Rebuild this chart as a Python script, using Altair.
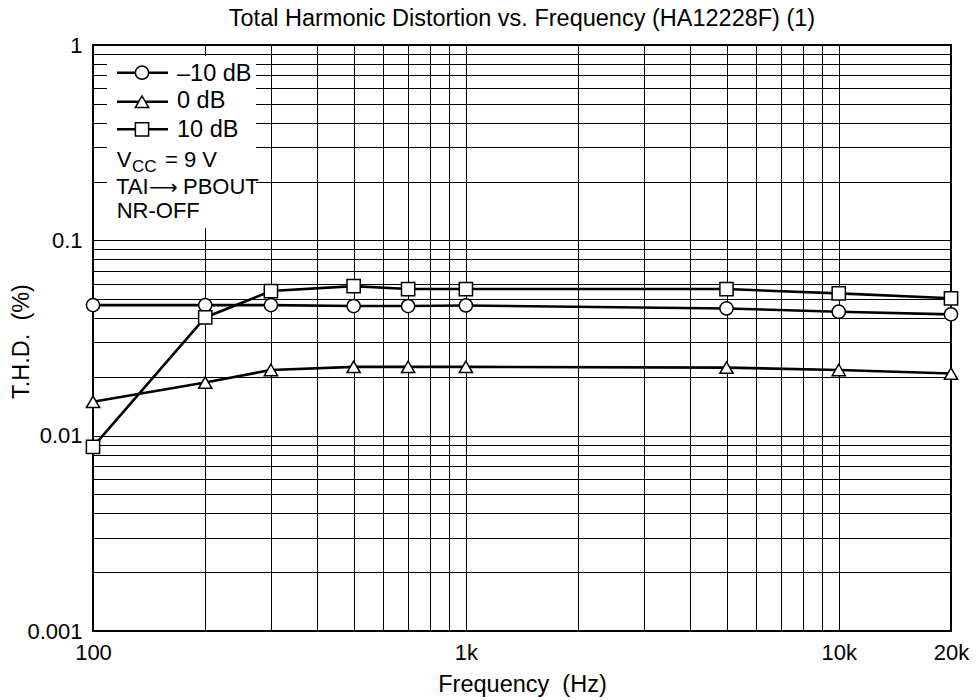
import altair as alt
import pandas as pd

# ---- data ----
freqs = [100, 200, 300, 500, 700, 1000, 5000, 10000, 20000]
thd_minus10 = [0.0466, 0.0466, 0.0466, 0.0461, 0.0461, 0.0464, 0.0448, 0.0431, 0.0418]
thd_0db = [0.0149, 0.0187, 0.0217, 0.0225, 0.0225, 0.0225, 0.0223, 0.0217, 0.0208]
thd_plus10 = [0.00877, 0.0403, 0.0550, 0.0583, 0.0563, 0.0563, 0.0563, 0.0535, 0.0505]

series_names = ["\u201310 dB", "0 dB", "10 dB"]
series_shapes = ["circle", "triangle-up", "square"]

x_grid = [100, 200, 300, 400, 500, 600, 700, 800, 900,
          1000, 2000, 3000, 4000, 5000, 6000, 7000, 8000, 9000,
          10000, 20000]
x_labels = {100: "100", 1000: "1k", 10000: "10k", 20000: "20k"}
y_grid = [0.001, 0.002, 0.003, 0.004, 0.005, 0.006, 0.007, 0.008, 0.009,
          0.01, 0.02, 0.03, 0.04, 0.05, 0.06, 0.07, 0.08, 0.09,
          0.1, 0.2, 0.3, 0.4, 0.5, 0.6, 0.7, 0.8, 0.9, 1]
y_labels = {0.001: "0.001", 0.01: "0.01", 0.1: "0.1", 1: "1"}

title_text = "Total Harmonic Distortion vs. Frequency (HA12228F) (1)"
x_title = "Frequency \u00a0(Hz)"
y_title = "T.H.D. \u00a0(%)"

rows = []
for name, vals in zip(series_names, [thd_minus10, thd_0db, thd_plus10]):
    for f, v in zip(freqs, vals):
        rows.append({"freq": f, "thd": v, "series": name})
df = pd.DataFrame(rows)

FONT = "Liberation Sans, Arial, Helvetica, sans-serif"
FS = 22
W, H = 858, 586


def label_expr(mapping):
    parts = []
    for v, t in mapping.items():
        parts.append(f"abs(datum.value - {v}) < {v}*1e-6 ? '{t}'")
    return " : ".join(parts) + " : ''"


x_enc = alt.X(
    "freq:Q",
    scale=alt.Scale(type="log", domain=[100, 20000], nice=False),
    axis=alt.Axis(
        values=x_grid, labelExpr=label_expr(x_labels), grid=True, ticks=False,
        domain=False, labelOverlap=False, labelFlush=False, labelBound=False,
        labelPadding=11, labelFont=FONT, labelFontSize=FS, labelColor="black",
        title=x_title, titleFont=FONT, titleFontSize=23.5, titleFontWeight="normal",
        titleColor="black", titleX=W / 2, titleY=60, titleBaseline="alphabetic",
        titleAlign="center", gridColor="black", gridWidth=1, gridOpacity=1,
    ),
)
y_enc = alt.Y(
    "thd:Q",
    scale=alt.Scale(type="log", domain=[0.001, 1], nice=False),
    axis=alt.Axis(
        values=y_grid, labelExpr=label_expr(y_labels), grid=True, ticks=False,
        domain=False, labelOverlap=False, labelFlush=False, labelBound=False,
        labelPadding=11, labelFont=FONT, labelFontSize=FS, labelColor="black",
        title=y_title, titleFont=FONT, titleFontSize=23.5, titleFontWeight="normal",
        titleColor="black", titleX=-65, titleY=296, titleAngle=270,
        titleBaseline="alphabetic", titleAlign="center",
        gridColor="black", gridWidth=1, gridOpacity=1,
    ),
)

base = alt.Chart(df)

lines = base.mark_line(color="black", strokeWidth=2.6).encode(
    x=x_enc, y=y_enc, detail="series:N"
)
points = base.mark_point(
    filled=True, fill="white", stroke="black", strokeWidth=1.5, size=175, opacity=1
).encode(
    x="freq:Q", y="thd:Q",
    shape=alt.Shape("series:N", scale=alt.Scale(domain=series_names, range=series_shapes), legend=None),
)

one = alt.Data(values=[{"a": 1}])


def txt(text, x, y, size, font=FONT, align="left"):
    return alt.Chart(one).mark_text(
        align=align, baseline="alphabetic", font=font, fontSize=size, color="black"
    ).encode(x=alt.value(x), y=alt.value(y), text=alt.value(text))


title_mark = txt(title_text, W / 2, -19, 23.5, align="center")

legend_box = alt.Chart(one).mark_rect(fill="white").encode(
    x=alt.value(14), x2=alt.value(163), y=alt.value(11), y2=alt.value(183)
)

legend_layers = [legend_box]
row_sym_y = [27.7, 56.7, 84.3]
row_txt_y = [35.5, 63, 91.5]
for name, shp, ys, yt in zip(series_names, series_shapes, row_sym_y, row_txt_y):
    legend_layers.append(
        alt.Chart(one).mark_rule(color="black", strokeWidth=2.6).encode(
            x=alt.value(24), x2=alt.value(75), y=alt.value(ys)
        )
    )
    legend_layers.append(
        alt.Chart(one).mark_point(
            shape=shp, filled=True, fill="white", stroke="black", strokeWidth=1.5, size=175, opacity=1
        ).encode(x=alt.value(49), y=alt.value(ys))
    )
    legend_layers.append(txt(name, 84, yt, 23.5))

legend_layers += [
    txt("V", 23.7, 121.7, FS),
    txt("CC", 39, 126.7, 17),
    txt("= 9 V", 72, 121.7, FS),
    txt("TAI", 23, 149, FS),
    txt("\u27f6", 56, 149, 20, font="DejaVu Sans"),
    txt("PBOUT", 90, 149, FS),
    txt("NR-OFF", 23.7, 173.3, FS),
]

chart = alt.layer(lines, *legend_layers, points, title_mark).properties(
    width=W,
    height=H,
    autosize="none",
    padding={"left": 85, "top": 37, "right": 21, "bottom": 69},
    background="white",
).configure_view(stroke="black", strokeWidth=2)

chart.save("out.html", embed_options={"renderer": "svg", "actions": False})
